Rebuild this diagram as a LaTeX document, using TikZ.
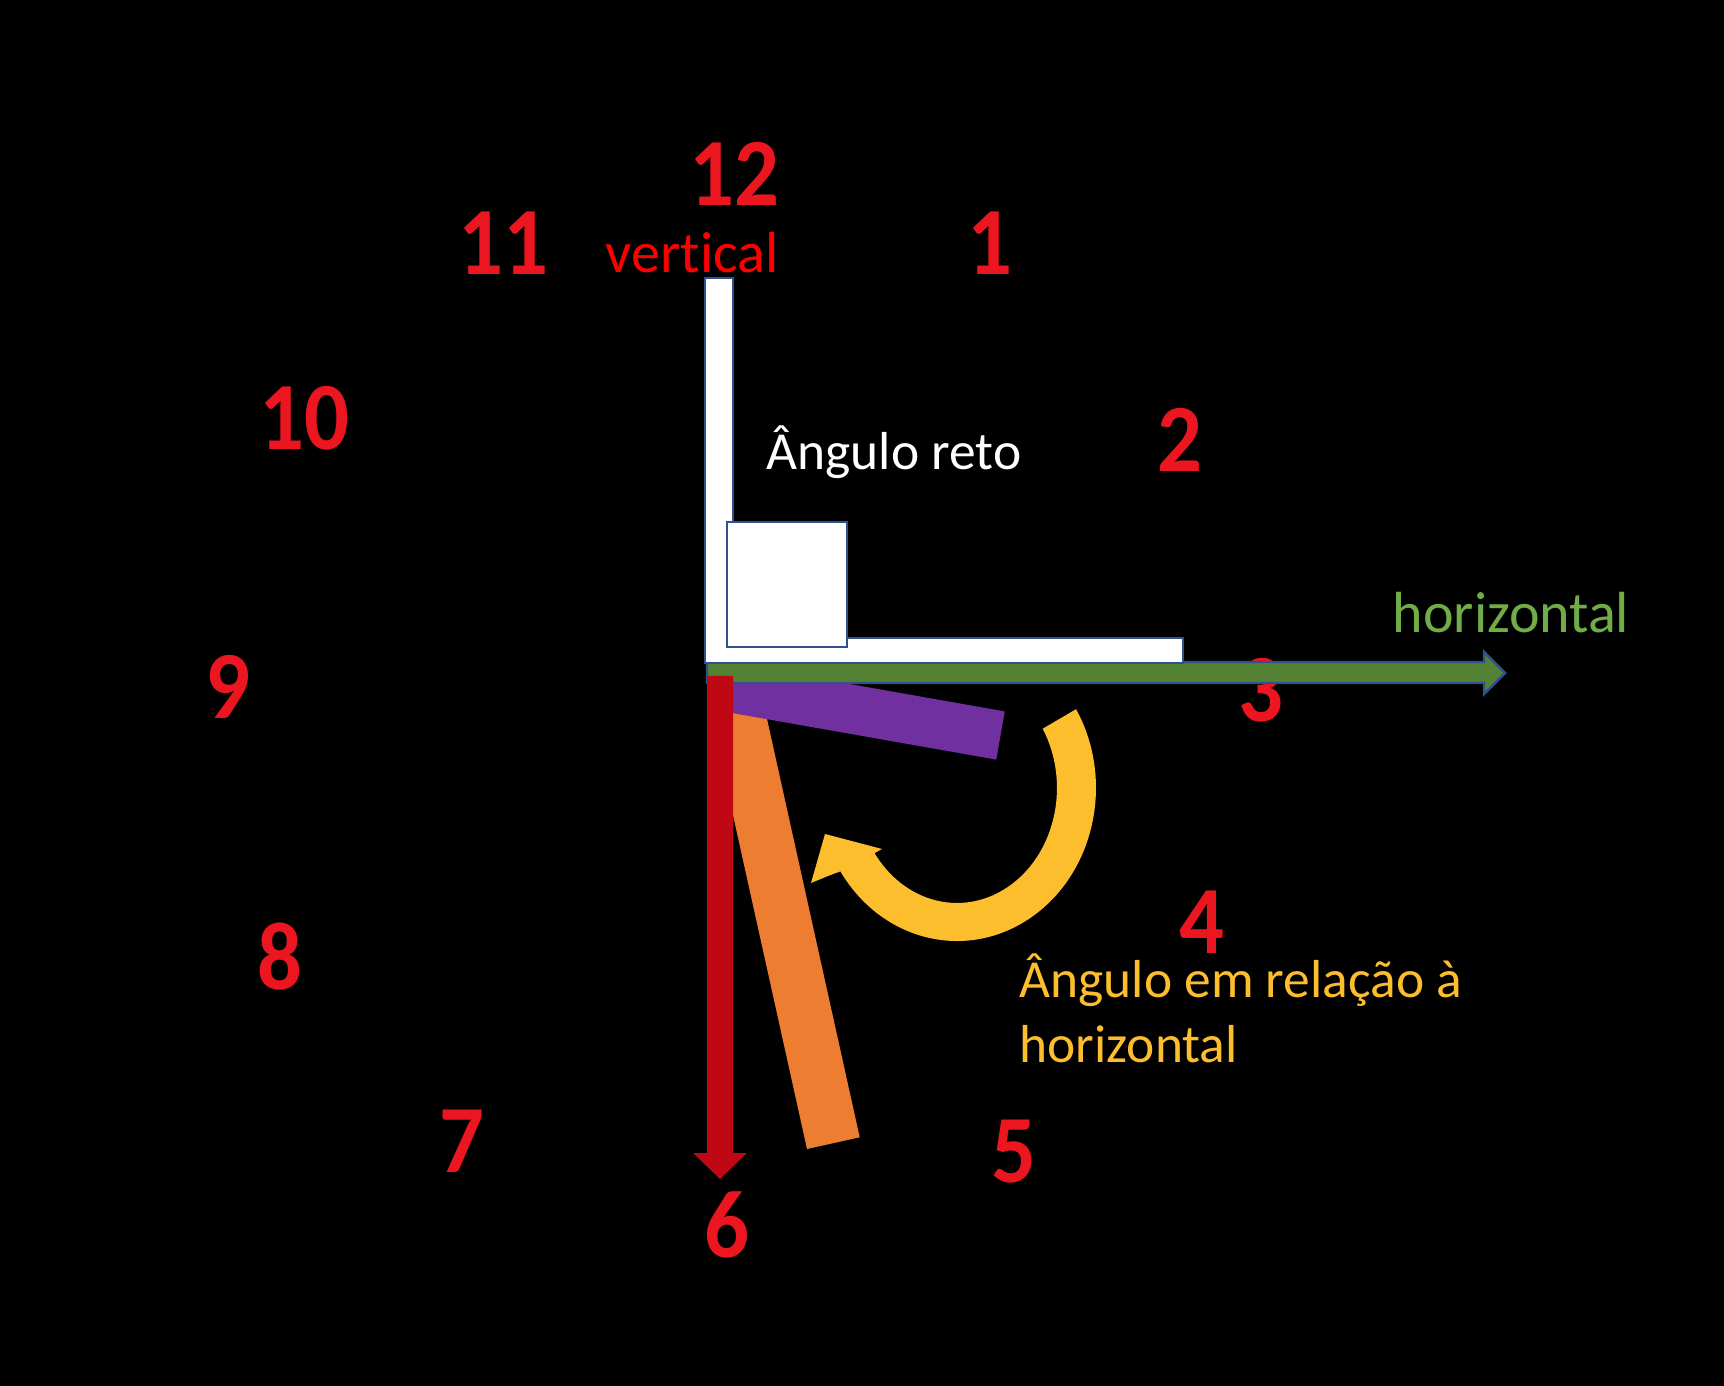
\documentclass[tikz,border=0pt]{standalone}
\usepackage{fontspec}
\setmainfont{Carlito}[Ligatures={NoCommon}]
\definecolor{numred}{RGB}{235,22,32}
\definecolor{outblue}{RGB}{47,82,143}
\definecolor{armgreen}{RGB}{84,130,53}
\definecolor{txtgreen}{RGB}{112,173,71}
\definecolor{armred}{RGB}{192,8,20}
\definecolor{handpurple}{RGB}{112,48,160}
\definecolor{handorange}{RGB}{237,125,49}
\definecolor{arcyellow}{RGB}{253,190,45}
\begin{document}
\begin{tikzpicture}[x=0.01cm,y=-0.01cm,
  num/.style={text=numred, font=\fontsize{27.4pt}{30pt}\selectfont\bfseries, inner sep=0},
  lbl/.style={anchor=base west, inner sep=0},
  bigtxt/.style={font=\fontsize{16.5pt}{20pt}\selectfont},
  midtxt/.style={font=\fontsize{15.2pt}{18.5pt}\selectfont},
  outl/.style={draw=outblue, line width=0.7pt, line join=miter}]
\fill[black] (0,0) rectangle (1724,1386);
\useasboundingbox (0,0) rectangle (1724,1386);
% clock numbers (behind the shapes)
\node[num] (n12) at (734,174) {\scalebox{0.92}[1]{12}};
\node[num] (n1) at (990,243) {\scalebox{0.92}[1]{1}};
\node[num] (n2) at (1180,440) {\scalebox{0.92}[1]{2}};
\node[num] (n3) at (1261,690) {\scalebox{0.92}[1]{3}};
\node[num] (n4) at (1202,922) {\scalebox{0.92}[1]{4}};
\node[num] (n5) at (1014,1152) {\scalebox{0.92}[1]{5}};
\node[num] (n6) at (727,1225) {\scalebox{0.92}[1]{6}};
\node[num] (n7) at (462,1141) {\scalebox{0.92}[1]{7}};
\node[num] (n8) at (280,957) {\scalebox{0.92}[1]{8}};
\node[num] (n9) at (228,687) {\scalebox{0.92}[1]{9}};
\node[num] (n10) at (304,418) {\scalebox{0.92}[1]{10}};
\node[num] (n11) at (503,243) {\scalebox{0.92}[1]{11}};
% orange hand
\fill[handorange] (707.5,700) -- (760.2,688.2) -- (859.7,1137.3) -- (807,1149) -- cycle;
% purple hand
\fill[handpurple] (707,658.9) -- (1004.75,711.4) -- (996.25,759.6) -- (707,708.6) -- cycle;
% green horizontal arrow
\filldraw[fill=armgreen, outl] (707,662) -- (1484,662) -- (1484,652) -- (1505,673) -- (1484,694) -- (1484,683) -- (707,683) -- cycle;
% red vertical arrow
\fill[armred] (707,676) -- (733,676) -- (733,1153) -- (747,1153) -- (720,1179) -- (693,1153) -- (707,1153) -- cycle;
% white L
\filldraw[fill=white, outl] (705,278) -- (733,278) -- (733,638) -- (1183,638) -- (1183,663) -- (705,663) -- cycle;
% right-angle square
\filldraw[fill=white, outl] (727,522) rectangle (847,647);
% yellow curved arrow
\fill[arcyellow] (1076.1,709.2) arc[start angle=-31, end angle=147, x radius=139, y radius=153]
  -- (828,876) -- (811,883) -- (825,834) -- (882,849) -- (866,858) -- (873.1,850.6)
  arc[start angle=147, end angle=-31, x radius=100, y radius=115] -- cycle;
% labels
\node[lbl, bigtxt, text=red] (vert) at (605,273) {vertical};
\node[lbl, midtxt, text=white] (reto) at (766,470) {Ângulo reto};
\node[lbl, bigtxt, text=txtgreen] (horiz) at (1392,633) {horizontal};
\node[lbl, midtxt, text=arcyellow] (yl1) at (1019,998) {Ângulo em relação à};
\node[lbl, midtxt, text=arcyellow] (yl2) at (1019,1063) {horizontal};
\end{tikzpicture}
\end{document}
